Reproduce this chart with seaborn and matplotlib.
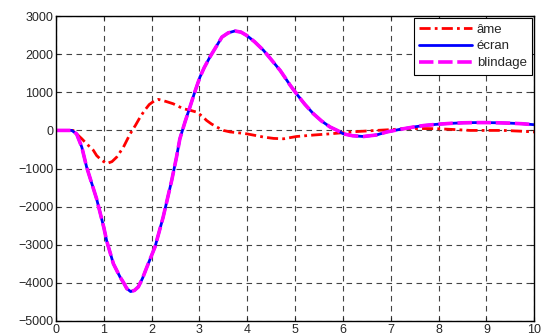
import numpy as np
import pandas as pd
import matplotlib
matplotlib.use("Agg")
import matplotlib.pyplot as plt
import seaborn as sns

# values
t_ame = [0, 0.36, 0.43, 0.54, 0.64, 0.78, 0.85, 0.95, 1.06, 1.17, 1.27, 1.41, 1.55, 1.66,
         1.76, 1.85, 1.95, 2.05, 2.14, 2.3, 2.45, 2.66, 2.8, 2.94, 3.05, 3.15, 3.25,
         3.36, 3.5, 3.64, 3.8, 3.99, 4.2, 4.34, 4.55, 4.76, 5.03, 5.4, 5.73, 6.0,
         6.29, 6.7, 7.0, 7.27, 7.6, 7.96, 8.3, 8.66, 9.0, 9.36, 9.7, 10]
v_ame = [0, 0, -90, -220, -350, -520, -660, -780, -870, -820, -700, -440, -90, 130,
         350, 520, 680, 770, 815, 760, 700, 570, 530, 480, 380, 260, 170,
         90, 0, -40, -60, -90, -140, -175, -210, -220, -160, -120, -90, -60,
         -30, 0, 20, 45, 50, 45, 25, 0, 0, 0, -20, -40]

t_ecran = [0, 0.2, 0.33, 0.43, 0.54, 0.64, 0.75, 0.85, 0.92, 1.0, 1.06, 1.2, 1.34, 1.41,
           1.48, 1.56, 1.64, 1.72, 1.81, 1.9, 2.07, 2.24, 2.42, 2.52, 2.59, 2.7, 2.8,
           2.9, 3.01, 3.1, 3.22, 3.35, 3.47, 3.6, 3.74, 3.87, 3.99, 4.15, 4.34, 4.5,
           4.69, 4.9, 5.03, 5.2, 5.38, 5.55, 5.73, 5.88, 6.01, 6.2, 6.43, 6.7, 6.92,
           7.2, 7.48, 7.7, 7.96, 8.25, 8.52, 8.75, 9.0, 9.25, 9.5, 9.75, 10]
v_ecran = [0, 0, 0, -90, -440, -960, -1400, -1800, -2150, -2550, -2900, -3500, -3850, -3990,
           -4150, -4230, -4200, -4110, -3880, -3590, -3060, -2280, -1310, -700, -220, 230, 610,
           1000, 1400, 1650, 1930, 2200, 2450, 2560, 2610, 2580, 2490, 2330, 2100, 1860,
           1570, 1180, 960, 690, 440, 250, 90, 0, -90, -140, -160, -120, -40,
           30, 90, 130, 160, 185, 200, 205, 205, 200, 190, 175, 150]
# blindage lies on top of écran
t_blind = t_ecran
v_blind = v_ecran

labels = ["âme", "écran", "blindage"]
x_ticks = list(range(0, 11))
y_ticks = list(range(-5000, 3001, 1000))

sns.set_style("white")
plt.rcParams['font.family'] = ['Liberation Sans', 'DejaVu Sans']

fig = plt.figure(figsize=(5.41, 3.36), dpi=100)
ax = fig.add_axes([0.1035, 0.045, 0.884, 0.907])

df_a = pd.DataFrame({"t": t_ame, "v": v_ame})
df_e = pd.DataFrame({"t": t_ecran, "v": v_ecran})
df_b = pd.DataFrame({"t": t_blind, "v": v_blind})

sns.lineplot(data=df_a, x="t", y="v", ax=ax, color="red", lw=2,
             linestyle=(0, (4, 1.5, 1, 1.5)), label=labels[0])
sns.lineplot(data=df_e, x="t", y="v", ax=ax, color="blue", lw=2, label=labels[1])
sns.lineplot(data=df_b, x="t", y="v", ax=ax, color="magenta", lw=2.6,
             linestyle=(0, (4, 1.3)), label=labels[2])

ax.set_xlim(0, 10)
ax.set_ylim(-5000, 3000)
ax.set_xticks(x_ticks)
ax.set_yticks(y_ticks)
ax.set_xlabel("")
ax.set_ylabel("")
ax.grid(True, color="#444444", linestyle=(0, (5, 4)), linewidth=0.8)
ax.tick_params(direction="in", length=3, labelsize=9, pad=2,
               top=True, right=True, bottom=True, left=True)
for s in ax.spines.values():
    s.set_color("black")
    s.set_linewidth(1)

leg = ax.legend(loc="upper right", fontsize=9.5, frameon=True, fancybox=False,
                edgecolor="black", framealpha=1, handlelength=4.0,
                borderaxespad=0.15, labelspacing=0.35, handletextpad=0.4,
                borderpad=0.4)
leg.get_frame().set_linewidth(0.8)

fig.savefig("out.png", dpi=100)
